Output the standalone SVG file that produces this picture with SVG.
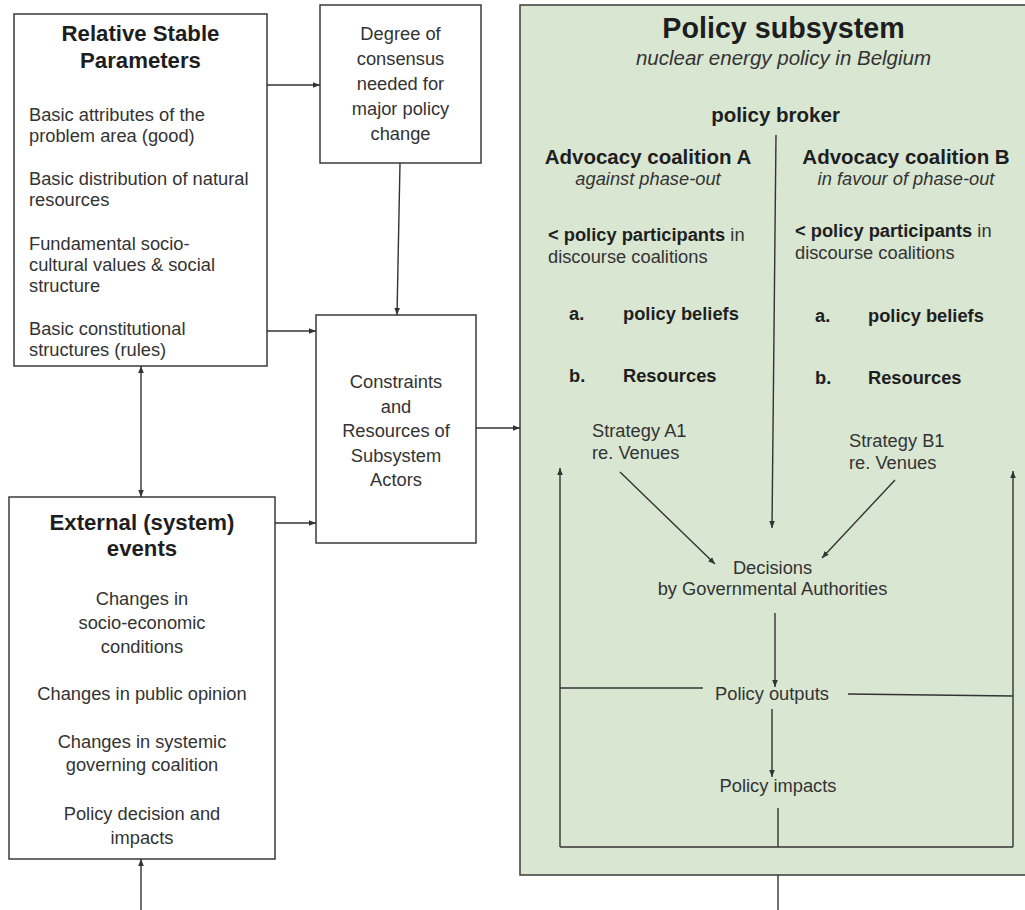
<svg xmlns="http://www.w3.org/2000/svg" width="1025" height="910" viewBox="0 0 1025 910">
<style>
.box{fill:#ffffff;stroke:#3a3a3a;stroke-width:1.5}
.green{fill:#d9e6d2;stroke:#3a3a3a;stroke-width:1.5}
.t{font-family:"Liberation Sans",Arial,sans-serif;font-size:18.3px;fill:#333}
.c{text-anchor:middle}
.b{font-weight:bold;fill:#1e1e1e}
.i{font-style:italic}
.h{font-size:22.2px}
.m{font-size:20.5px}
.big{font-size:28.7px}
.ln{fill:none;stroke:#333;stroke-width:1.4}
.arr{marker-end:url(#ah)}
</style>
<defs>
<marker id="ah" viewBox="0 0 10 10" refX="10" refY="5" markerWidth="7" markerHeight="7" markerUnits="userSpaceOnUse" orient="auto-start-reverse">
<path d="M0,1 L10,5 L0,9 z" fill="#333"/>
</marker>
</defs>

<g id="relative-stable-parameters">
<rect class="box" x="14" y="14" width="253" height="352"/>
<text class="t b h c" x="140.5" y="41">Relative Stable</text>
<text class="t b h c" x="140.5" y="68">Parameters</text>
<text class="t" x="29" y="121">Basic attributes of the</text>
<text class="t" x="29" y="142">problem area (good)</text>
<text class="t" x="29" y="185">Basic distribution of natural</text>
<text class="t" x="29" y="206">resources</text>
<text class="t" x="29" y="250">Fundamental socio-</text>
<text class="t" x="29" y="271">cultural values &amp; social</text>
<text class="t" x="29" y="292">structure</text>
<text class="t" x="29" y="335">Basic constitutional</text>
<text class="t" x="29" y="356">structures (rules)</text>
</g>

<g id="degree-of-consensus">
<rect class="box" x="320" y="5" width="161" height="158"/>
<text class="t c" x="400.5" y="40">Degree of</text>
<text class="t c" x="400.5" y="65">consensus</text>
<text class="t c" x="400.5" y="90">needed for</text>
<text class="t c" x="400.5" y="115">major policy</text>
<text class="t c" x="400.5" y="140">change</text>
</g>

<g id="constraints-resources">
<rect class="box" x="316" y="315" width="160" height="228"/>
<text class="t c" x="396" y="388">Constraints</text>
<text class="t c" x="396" y="412.5">and</text>
<text class="t c" x="396" y="437">Resources of</text>
<text class="t c" x="396" y="461.5">Subsystem</text>
<text class="t c" x="396" y="486">Actors</text>
</g>

<g id="external-events">
<rect class="box" x="9" y="497" width="266" height="362"/>
<text class="t b h c" x="142" y="530">External (system)</text>
<text class="t b h c" x="142" y="556">events</text>
<text class="t c" x="142" y="605">Changes in</text>
<text class="t c" x="142" y="629">socio-economic</text>
<text class="t c" x="142" y="653">conditions</text>
<text class="t c" x="142" y="700">Changes in public opinion</text>
<text class="t c" x="142" y="748">Changes in systemic</text>
<text class="t c" x="142" y="771">governing coalition</text>
<text class="t c" x="142" y="820">Policy decision and</text>
<text class="t c" x="142" y="844">impacts</text>
</g>

<g id="policy-subsystem">
<rect class="green" x="520" y="5" width="520" height="870"/>
<text class="t b big c" x="783.5" y="38">Policy subsystem</text>
<text class="t i m c" x="783.5" y="65">nuclear energy policy in Belgium</text>
</g>

<g id="policy-broker">
<text class="t b m c" x="775.5" y="122">policy broker</text>
</g>

<g id="advocacy-coalition-a">
<text class="t b m c" x="648" y="164">Advocacy coalition A</text>
<text class="t i c" x="648" y="185">against phase-out</text>
<text class="t" x="548" y="241"><tspan class="b">&lt; policy participants</tspan> in</text>
<text class="t" x="548" y="263">discourse coalitions</text>
<text class="t b" x="569" y="320">a.</text>
<text class="t b" x="623" y="320">policy beliefs</text>
<text class="t b" x="569" y="382">b.</text>
<text class="t b" x="623" y="382">Resources</text>
</g>

<g id="advocacy-coalition-b">
<text class="t b m c" x="906" y="164">Advocacy coalition B</text>
<text class="t i c" x="906" y="185">in favour of phase-out</text>
<text class="t" x="795" y="237"><tspan class="b">&lt; policy participants</tspan> in</text>
<text class="t" x="795" y="259">discourse coalitions</text>
<text class="t b" x="815" y="322">a.</text>
<text class="t b" x="868" y="322">policy beliefs</text>
<text class="t b" x="815" y="384">b.</text>
<text class="t b" x="868" y="384">Resources</text>
</g>

<g id="strategy-a1">
<text class="t" x="592" y="437">Strategy A1</text>
<text class="t" x="592" y="459">re. Venues</text>
</g>

<g id="strategy-b1">
<text class="t" x="849" y="447">Strategy B1</text>
<text class="t" x="849" y="469">re. Venues</text>
</g>

<g id="decisions">
<text class="t c" x="772.5" y="574">Decisions</text>
<text class="t c" x="772.5" y="595">by Governmental Authorities</text>
</g>

<g id="policy-outputs">
<text class="t c" x="772" y="700">Policy outputs</text>
</g>

<g id="policy-impacts">
<text class="t c" x="778" y="792">Policy impacts</text>
</g>

<g id="connectors">
<path class="ln arr" d="M267,85 L320,85"/>
<path class="ln arr" d="M267,331 L316,331"/>
<path class="ln arr" d="M275,523 L316,523"/>
<path class="ln arr" d="M400,163 L397,315"/>
<path class="ln arr" d="M476,428 L520,428"/>
<path class="ln" d="M141,366 L141,497" marker-start="url(#ah)" marker-end="url(#ah)"/>
<path class="ln arr" d="M141,910 L141,859"/>
<path class="ln arr" d="M776,135 L772,528"/>
<path class="ln arr" d="M620,472 L715,564"/>
<path class="ln arr" d="M895,480 L822,558"/>
<path class="ln arr" d="M775,613 L775,687"/>
<path class="ln arr" d="M772,709 L772,777"/>
<path class="ln" d="M778,808 L778,847"/>
<path class="ln" d="M560,847 L1013,847"/>
<path class="ln arr" d="M560,847 L560,468"/>
<path class="ln arr" d="M1013,847 L1013,471"/>
<path class="ln" d="M703,688 L560,688"/>
<path class="ln" d="M848,694 L1013,696"/>
<path class="ln" d="M778,875 L778,910"/>
</g>
</svg>
